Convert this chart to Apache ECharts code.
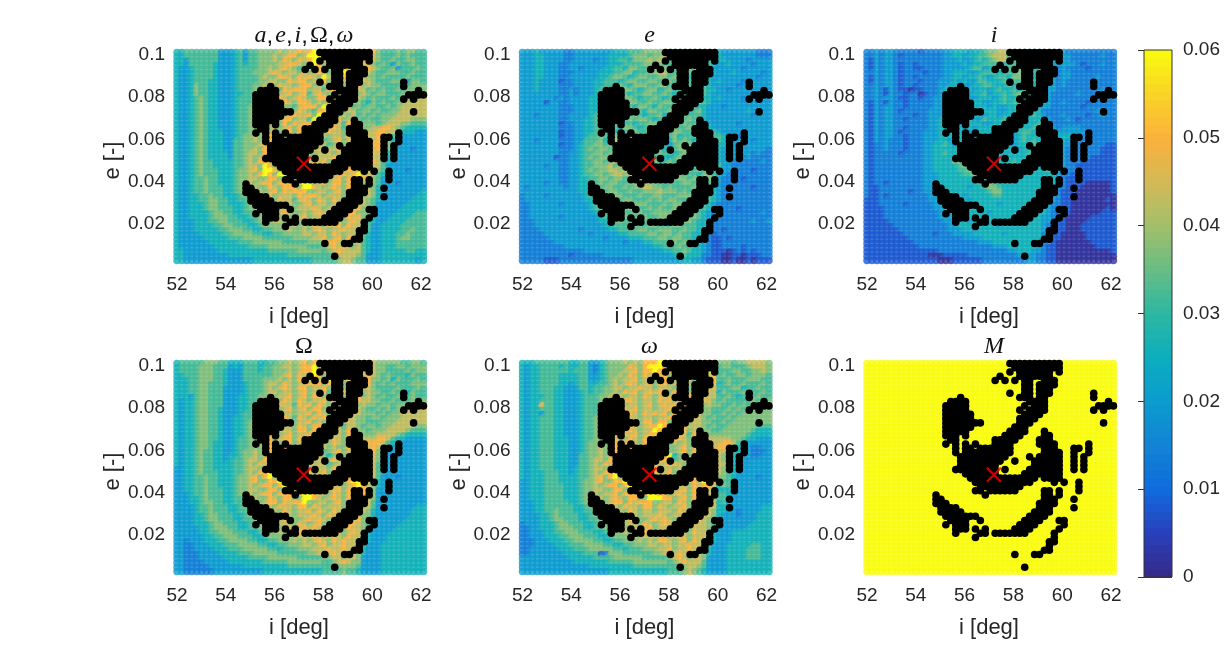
<!DOCTYPE html>
<html>
<head>
<meta charset="utf-8">
<style>html,body{margin:0;padding:0;background:#fff}#chart{width:1230px;height:657px}</style>
<script src="https://cdn.jsdelivr.net/npm/echarts@6/dist/echarts.min.js"></script>
</head>
<body>
<div id="chart"></div>
<script>
// Grid of initial conditions: 51 inclination columns by 50 eccentricity rows (top row first).
const iStart = 52, iStep = 0.202, eTop = 0.1012, eStep = 0.00201;
const xTicks = [52, 54, 56, 58, 60, 62];
const yTicks = [0.02, 0.04, 0.06, 0.08, 0.1];
const barTicks = [0, 0.01, 0.02, 0.03, 0.04, 0.05, 0.06];
const nominal = [57.2, 0.0485];
// Each digit indexes one of these sensitivity levels.
const levels = [0.002, 0.008, 0.014, 0.02, 0.026, 0.032, 0.037, 0.043, 0.05, 0.06];
const meanAnomalyValue = 0.06;

const fieldAll = [
"4455555553 3345355666 6767787898 8878778888 8655565665 5","4455555553 3345355666 7678867999 8788878888 7655565655 5",
"4435555553 3345355666 7687687897 8688788878 7655655665 5","4435555543 3345455666 6778876798 6878878887 6565365565 5",
"4334555543 3345555667 6787657688 7678889878 7655635556 5","4334555543 3345556667 8767768678 7678986787 6556665565 5",
"4334555543 3345555676 6887687876 9777878686 6565555655 5","4334555443 3345555667 7668788678 8699776877 6555665366 5",
"4334655443 3345556677 6877678867 6878687867 6655555566 6","4334655443 3345556676 7587888677 5889978775 6565565667 6",
"4334655443 3344556667 6778678578 7687986676 5665556677 6","4334565443 3345556576 7876787668 8678786765 6555656677 7",
"4334565443 3345556677 6687688767 6888677654 6565566777 7","4334565443 3345566767 7866578886 9677675656 6556567777 7",
"4334565443 3345566667 6777687658 8987577566 5655667777 7","4334565443 3345566776 7868877869 7876767565 6566677777 7",
"4334565443 3345566677 6688677598 6878677656 5566777766 6","4334565443 3345566767 6686878897 8687587766 6567776655 5",
"4334565443 3345566576 7678687989 6787576766 7788765444 4","4334565444 3345566767 8678687897 5877677677 7887754443 3",
"4334565444 3345667678 6886877587 7677688677 7887543333 3","4334565444 3355667688 6878687767 5678677687 7887443333 3",
"4334565444 3355666788 8677578687 7567686887 8876433333 3","4334565444 3355667687 6877688787 4778687678 7876433323 3",
"4334565444 4355677687 7686787667 7767687787 8764333333 3","4334565444 4355676788 6787687677 7786678678 7754333333 3",
"4334565544 4455676887 8687677787 8667678687 8754333333 3","4334565544 4455677698 6887687668 7787688978 7753333333 3",
"4334565554 4456678699 8668786877 6878587798 7653333233 3","4334565554 4456676898 6997687687 8687878987 7543333333 3",
"4334556554 4456677668 8699787768 7678688687 6533333333 3","4334556554 4456676788 6888689967 8688687867 6533323333 3",
"4334556555 4456677668 7688869987 6787687687 6433333333 3","4334556555 4456667767 8687888667 7678678687 6433333333 4",
"4334455655 4445667678 6777687887 6777678867 6433333334 4","4334455665 5445567677 6877578768 7687587676 5433333344 4",
"4334445665 5444566767 7687667867 7678678676 5333333444 4","4334445665 5544566676 6777677787 6787677866 4333334444 4",
"4334444566 5544556677 6787667678 7678688666 4333344445 5","4334444566 6554455667 7676778677 6878687866 4333444455 5",
"4333444556 6555445666 7767867768 7687678765 4334444555 5","4333444455 6655544566 6676767687 6878687765 3344445555 5",
"4333444445 5666554455 6667667678 7677877665 3344445565 5","4333344444 5566665544 5566667767 7687677864 3344455655 5",
"4333334444 4555666655 5555666677 8678687754 3344456655 5","4333333444 4445556666 6655555666 7887677754 3344455555 5",
"4333333344 4444455556 6666666555 6787876754 3344455555 5","4433333334 4444444445 5555566666 5678777754 3344444554 4",
"4433333333 3444444444 4445555555 5567777653 3344444444 4","4433333333 3333334444 4444444455 5556776553 3344444443 4"];

const fieldE = [
"3334333332 2333333334 4455566667 5444545565 4333333322 2","3334433332 2333333344 4456665667 6545454555 4333333322 2",
"3334433332 2333323344 5546667677 5555455545 4433332333 3","3334433322 3333333344 4555566765 5545544554 3343333233 3",
"3334433322 3323333445 5466555666 4554555453 3333323333 3","3334433322 2333334445 5664556677 5554655454 3334333332 3",
"3334433322 3333334456 6545665566 5665445443 3333333323 3","3334333312 2333344555 4566556655 6566555543 4333323333 3",
"3334333322 2333344555 6546665566 5556556543 3333233333 3","3334333322 3233345465 5665456645 6556655544 3323333334 3",
"3333333322 3233345554 6545566556 5465555543 3333333333 3","3333333232 3333445545 5665455654 5565655443 4333323333 3",
"3333313322 3333445655 4566556556 6554566543 3333333333 3","3333333322 2333445455 6554665465 5655554433 3233333333 3",
"3333333322 2333445565 5465546655 6655456433 3333334333 3","3332333322 3333455454 6556545564 7566555433 3333333233 3",
"3333333322 3334455565 5465665455 6755654433 3333333333 3","3333333312 2334455456 5554556655 5956555443 3333233333 3",
"3333333322 2334455565 4665455564 6655654543 3333333333 3","3333333312 2334456654 5546556545 5665545555 4333333333 3",
"3333333312 2334556566 5465465554 5645556565 5433223333 3","3332333322 2335556457 6554556455 4656545554 5433333233 3",
"3333333312 2345566565 5646555645 3565655655 4433333333 3","3333333322 2345656655 5455645554 4566555665 4333333333 2",
"3333333322 3345566565 6645554565 5456555545 4333333232 2","3333333122 3345656656 5556456544 4565654555 4333323222 2",
"3333333322 3345566567 7655545655 6556565545 4332222223 2","3333323322 3345566675 7765455565 6645555665 5332222222 2",
"3333333322 3345656677 6776556554 5656556574 4332222122 2","3333333322 3345566567 7677654565 6565554665 4322222222 2",
"3333333322 3344556656 6577766555 4666565565 3222212222 2","3333323322 3344556566 5566776655 5556656654 3222222222 2",
"3233333332 3344555665 5656677665 6555565564 3222222122 2","3333333333 3344456566 5565566676 6656554564 3222222222 2",
"2333323333 3334556556 6555655665 5566665554 3222222222 2","2333333333 3334455665 5665556565 6655456554 3222222222 2",
"2233333323 3333456556 6556665556 5665565543 2222222222 2","2233333333 3333455656 5665556565 5656654543 2222122222 2",
"2233333333 3333345565 6556655666 6555665432 2222222223 2","2233333323 3333334556 5665565566 6665565432 2222222222 2",
"2223333333 3333334455 6556656555 6556654432 2222222322 3","2223333333 3333333445 5566556655 5665554432 2222222222 2",
"2222333333 3323333344 5555665566 6556554322 2122222222 2","2222233333 3333233333 4455556656 6565544321 2222222222 2",
"2222223333 3333333233 3344455566 5665544321 1212222222 2","2222222333 3333333333 3233344555 5656554321 1222222222 2",
"2222222223 3333333333 3333333445 5565544321 1222212222 2","2222222222 2223333333 3333333334 4556544321 1101212122 2",
"2222222222 1222222333 3333333333 3445444221 1001101112 2","2222211122 2222222222 2223333333 3334433211 1001001011 1"];

const fieldI = [
"2232332222 2122223344 4344566776 5433333433 3222222222 2","2232332122 2222223344 3445567775 5444443443 3322222232 2",
"2132332222 2222223334 3345456775 5544444443 3322222222 2","2132332122 1222223333 4344555545 5544454433 3332122232 2",
"2132332122 1122223333 3455344555 6655445432 3222212222 2","2232332122 2212223344 4334555445 5664554332 3322222222 2",
"2132332122 1222223344 3445434554 6654444332 3322222322 2","2132332122 2122233343 4335544454 5544544332 3222221222 2",
"2232332122 1222233443 3344554445 4544445332 3222222222 2","2232132110 1122234334 4434434544 5454545332 2222222232 2",
"2232132212 2012233344 3344534454 5645454322 2223222222 2","2232332112 2122334433 4334443454 4554554322 2222222222 2",
"2132132212 2222334344 3444334454 5545454322 3222212222 2","2132332212 2222334434 3344434334 4545443322 2222122222 2",
"2132332122 2223334344 4433444334 4445442222 2222222322 2","2132332222 1223334334 3444344344 4554543222 3222212232 2",
"2132332212 2223344344 4433544454 5744443322 2321222222 2","2132332222 2223344433 4444334445 5844454322 2222222222 2",
"2132332212 2223344344 3434444354 4544544332 3333222222 2","2132332122 2233344434 4344444444 4455434343 3333322222 2",
"2132332212 2233344444 3344434444 3454443444 4432222222 2","2132322212 2233344344 4433444344 3454544343 4332222222 2",
"2122322212 2233445434 4444344443 3444544443 3322222221 1","2122322212 2233444444 3444444344 4344444443 3222222211 1",
"2122222122 2233445444 4344434444 4445443443 3222222211 1","2122222222 2233444454 4444444344 4444444443 3222221111 1",
"2122222222 2233444466 4344444444 5445454443 3222111111 1","2122222222 2233444445 6544344444 5544444553 3221111111 1",
"2122222222 2233444445 5654434444 4454544563 2221111111 1","2122222222 2233344444 5565444444 4544444443 2211111111 1",
"2122222222 2233344444 4456544444 4444444442 2111111111 1","2122122222 2233344444 4445665444 4444444442 2111100000 1",
"2112222222 2233344444 4344566544 4444444442 2111000000 1","2112222221 2233344444 4444456644 4444444442 1110000000 1",
"2112122222 2223344444 3444445544 4444444432 1110000000 0","1112222222 2223334444 4344444444 4444444432 1100000001 0",
"1112222212 2222334444 4434444344 4444444422 1100000000 0","1111222222 2222334444 3444444444 4444444322 1100000001 0",
"1111222222 2222233444 4444434444 4444444321 1100000011 1","1111222222 2222233344 4444444444 4444443321 1000001111 1",
"1111122222 2222223344 4344444444 4444443321 1000011111 1","1111112222 2222222334 4444444344 4444443221 1000111111 1",
"1111111222 2222222333 4434444444 4444443221 1000111111 1","1111111122 2222122233 3344444434 4444442211 0000011111 1",
"1111111112 2222222222 3333444444 4444442211 0000011111 1","1111111111 2222222222 2223334444 4444432210 0000001111 1",
"1111111111 1222222222 2222223334 4444432110 0000000111 1","1111111111 1111122222 2222222223 3444332110 0000000000 1",
"1111111111 1110001111 1222222222 2333322110 0000000000 0","1111111111 1111100011 1111222222 2223322110 0000000000 0"];

const fieldNode = [
"4555556665 5444555445 5667678687 8768878888 7666665566 5","4555566655 5343555455 6677678897 8687888788 7665566566 6",
"4555566655 4333555455 6667678899 8987687888 7665555656 6","4455566655 4333555555 6678687698 6798878678 7656555465 5",
"4445566655 4333555566 6767688677 8999687788 6656465556 5","4445566555 4333455567 7687677888 6899678888 6565655566 6",
"4445566555 3333455567 6787688677 8678687687 6555565556 5","4445566555 3333455567 7677678677 8599888667 6655655465 5",
"4443566555 3334455667 6778678688 6888687867 6565565565 5","4344566555 3334455677 7687687677 8689688877 6655655566 6",
"4344566555 3334455677 6877587868 7688988676 6566566677 7","4344566554 3334455677 7678678688 6878687765 5656566777 7",
"4344566554 3334556677 6877677868 7688687766 6565667777 7","4344566554 3344556677 7687587687 8987677665 6656667777 7",
"4344566554 3344566777 6778677867 6897877665 5566677777 7","4344566554 3344566677 8677687688 7687577656 6566777776 6",
"4344566554 3344566767 6877688687 9677687665 6667777655 5","4344566554 3344566677 7678677897 6787687766 6777765444 4",
"4344566554 3345566678 6788687898 5877687677 7887544333 3","4344566544 3345566768 8678678897 7687678778 8875433333 3",
"4344566544 3345566678 6887688697 7676688777 8754333333 3","4344565544 3345667688 8678687787 5678677788 8653333333 3",
"4344565544 3445667678 7687678878 6467687887 7643333333 3","4344565544 3455677688 6878687767 4787687778 7633333333 3",
"4344565544 4455676878 8677687877 7567677887 7543333333 3","3344565544 4455677688 6788688687 7686778688 7543333333 3",
"3344565554 4455676889 9687677877 8677688878 7543333333 3","3344556554 4456678689 6987687687 7688689878 7533323333 3",
"3344556554 4456678668 8998687677 6778689987 6433333333 3","3344556554 4456676788 6899687787 8687678987 6433333333 3",
"3344556555 4456677668 8689788778 6878688887 6333333333 3","3334556555 4456676788 6888689987 7687687887 6333333333 3",
"3334456555 4455677668 7688669987 6787687887 6333333333 3","3334456655 4455667678 8687889667 7678678877 5333333333 3",
"3333455655 5445667677 6877688687 6777678877 5333333334 4","3333455655 5445566767 7687677868 7687687776 4333333344 4",
"3333445665 5544566677 6777677787 6878678766 4333333344 4","3333445665 5544556677 7687667878 7687677866 4333333444 4",
"3333444566 5554455667 6777687678 6778688765 4333334444 4","3333344566 6554455666 7677678787 7678687765 3333344444 4",
"3333344556 6655544566 6767787678 7687678764 3333444444 4","3333334455 6665554456 6667677787 6877687754 3334444444 4",
"3323334445 5666655445 5666767678 7687877754 3334444444 4","3322333444 5556666554 4556667767 8677877753 3344444444 4",
"3322333344 4555666665 5455566677 7877877643 3344444444 4","3322233334 4445556666 6555555667 7787777643 3344444444 4",
"3322233333 4444455556 6666655555 6677677633 3344444444 4","3322223333 3444444455 5556666666 5567876633 3344444444 4",
"3322222333 3333444444 4445555555 5556666533 3344444444 4","3322222233 3333333344 4444444444 5555655433 3344444444 4"];

const fieldPeri = [
"4445555555 4455334566 6767688899 8878688878 6665667777 6","4344555545 4455324566 6687689998 8687887888 5665556777 6",
"4344555555 4555324566 6778688987 8878688898 5556655667 6","4344555544 4455334566 7687687888 6888958678 5655665666 5",
"4344555544 4455334567 6778678678 8688858888 5565556665 5","4344555544 3455445567 6787678688 6798687888 4565565556 5",
"4344555443 3355455667 7677877677 7689688687 5556645565 5","4344555443 3345455667 6878678787 6878688677 4655565556 5",
"4344455443 3345556677 7677687678 7687888677 5565455565 5","4344555443 3345556677 6887677687 8678688876 5655555656 6",
"4344855443 3345556677 7677678678 7888688676 6556565666 6","4344555443 3345556677 6878677677 8687887665 5565656666 6",
"4344355443 3345556777 7687687878 6897877665 5656566666 6","4344555443 3345566767 6777677677 8987677656 5565666666 6",
"4344555443 3345566677 7877688688 6877577665 5656666666 6","4344555443 3345566767 6778678898 7687777656 5566666655 5",
"4344555443 3345566677 8687677987 6788677665 5666666544 4","4344555443 3345566767 6878678897 8687587766 6666665444 4",
"4344555444 3345566677 7687688797 6887687777 7776654433 3","4344555444 3345667678 6877687887 5767677787 7887543333 3",
"4344555444 3345667668 8688677877 6678677787 8876433223 3","4344555444 3345667688 6877678767 6678687788 7765433222 3",
"4344555444 3355667678 8688687778 9468687778 7654333223 3","4344555444 3355677688 6878687788 9567678878 7654333333 3",
"4344555444 3355676878 8687688777 8876688778 7754333333 3","4344555444 3455677688 6878677877 7677878788 7654333333 3",
"4344455544 3455676889 9677678877 8678688978 7654333333 3","4344455544 4455678689 6987687688 7688687988 6654333323 3",
"3344455544 4456678668 8998678687 6777887988 6554333333 3","3344455554 4456676788 6899687878 7687687887 4654333333 3",
"3344455554 4456677668 8688788778 6778688877 4444333333 3","3344455554 4456676778 6888689988 6787688877 5543333333 3",
"3344455554 4456677678 7688669998 8678687876 5533333333 3","3334455555 4456667678 8687888667 7687687877 4533333333 3",
"3334455555 5445667677 6877688687 6778688877 4433333334 4","3334455655 5445566767 7687677677 7687678876 4433233334 4",
"3333445655 5544566677 6777677787 6778687776 4333233344 4","3333445665 5544556677 7687667878 7678678766 4333333344 4",
"2333444566 5554455667 6777687678 7687687765 4333333444 4","2233444566 6554455666 7677678677 6778677765 3333334444 4",
"2233344556 6655544566 6767787678 7677687764 3334444444 4","2233344455 6665554456 6667677777 6787677754 3334444444 4",
"2223334445 5666655445 5666767688 7678687754 3334444444 4","2223333444 5556666554 4556667767 7677877653 3344444554 4",
"2233333344 4555666665 5455566677 8677877643 3344445554 4","2233333334 4445551266 6555555667 7787677643 3344445554 4",
"3333333333 4444455556 6666655555 6787677633 3344445554 4","3333333333 3444444455 5556666666 5678777533 3344444444 4",
"3333333333 3333444444 4445555555 5566776533 3344444444 4","3333333333 3333333344 4444444444 5556765433 3344444444 4"];

// Cases flagged by the filter, overplotted in black on every panel.
const flagged = [
".......... .......... .........# ########## .......... .",
".......... .......... .......... ########## .......... .",
".......... .......... .........# .#######.# .......... .",
".......... .......... .......#.. .#######.. .......... .",
".......... .......... ......#.#. #.##..###. .......... .",
".......... .......... .......... ..##.####. .......... .",
".......... .......... .......... ..##.###.. .......... .",
".......... .......... .........# ..##.###.. ......#... .",
".......... .........# .......... .###.##... ......#... .",
".......... .......### #......... ...####... .........# .",
".......... ......#### #......... ..#.###... .......### #",
".......... ......#### #......... .#.####... ......#.#. .",
".......... ......#### ##........ ..####.... .......... .",
".......... ......#### ##........ .####..... .......... .",
".......... ......#### ####...... .###...... ........#. .",
".......... ......#### ##........ ###....... .......... .",
".......... ......#### #........# ###...#... .......... .",
".......... ......###. #.......## ##....##.. .......... .",
".......... .......##. ......#### #....###.. .......... .",
".......... ......#.#. #.#...#### .....####. .....#.... .",
".......... ........#. ##.####### ......###. ..##.#.... .",
".......... ........#. ########## ......#### ..#..#.... .",
".......... .........# #########. ...#.##### ..#.#..... .",
".......... .........# ########.. #...###### ..#.#..... .",
".......... .........# #######... ....###### ..#.#..... .",
".......... ........## #######.#. ...####### ..#.#..... .",
".......... .......... #######... ..######## .......... .",
".......... .......... .######### #####.#### .......... .",
".......... .......... ..######## ####....#. #..#...... .",
".......... .......... ...####### ##........ ...#...... .",
".......... .......... ..##.##### #.....##.# ...#...... .",
".......... ....#..... ....#..... ......##.# .......... .",
".......... ....##.... .......... ......###. ..#....... .",
".......... ....###... .......... .....####. .......... .",
".......... .....####. .......... .....###.. ..#....... .",
".......... .....##### .......... ....####.. .......... .",
".......... ......#### ###....... ...####... .......... .",
".......... .......### #..#...... ..####...# #......... .",
".......... ......#.## #......... .####..... #......... .",
".......... ........## #.#.#..... ####.....# .......... .",
".......... ........#. ...##.#### ###.....#. .......... .",
".......... .......... ..#....... ........#. .......... .",
".......... .......... .......... .......##. .......... .",
".......... .......... .......... .......#.. .......... .",
".......... .......... .......... ......##.. .......... .",
".......... .......... .......... #...##.... .......... .",
".......... .......... .......... .......... .......... .",
".......... .......... .......... .......... .......... .",
".......... .......... .......... ..#....... .......... .",
".......... .......... .......... .......... .......... ."];

const parula = ['#352a87','#2a3fbb','#0f6bdc','#1283d5','#0c9bcf','#0caebe','#2cb7a2','#66bd85',
                '#a2bf6a','#d2b957','#fbb13c','#f9d427','#f9fb0e'];

const panelOrigin = [[177, 55], [522.5, 55], [867, 55], [177, 366], [522.5, 366], [867, 366]];
const panelFields = [fieldAll, fieldE, fieldI, fieldNode, fieldPeri, null];
const panelTitles = [
  '{m|a},\u200a{m|e},\u200a{m|i},\u200a{u|Ω},\u200a{m|ω}', '{m|e}', '{m|i}', '{u|Ω}', '{m|ω}', '{m|M}'
];

const iAt = k => +(iStart + k * iStep).toFixed(3);
const eAt = r => +(eTop - r * eStep).toFixed(5);

function cells(field) {
  const out = [];
  for (let r = 0; r < 50; r++) {
    const row = field ? field[r].replace(/ /g, '') : null;
    for (let k = 0; k < 51; k++) {
      out.push([iAt(k), eAt(r), row ? levels[+row[k]] : meanAnomalyValue]);
    }
  }
  return out;
}

function flaggedPoints() {
  const out = [];
  flagged.forEach((line, r) => {
    line.replace(/ /g, '').split('').forEach((c, k) => {
      if (c === '#') out.push([iAt(k), eAt(r)]);
    });
  });
  return out;
}
const flaggedData = flaggedPoints();

const tickFont = { fontFamily: 'Liberation Sans', fontSize: 19, color: '#262626' };
const nameFont = { fontFamily: 'Liberation Sans', fontSize: 22, color: '#262626' };

const grids = [], xAxes = [], yAxes = [], series = [], titles = [], fieldSeries = [];

panelOrigin.forEach(([left, top], p) => {
  grids.push({ left, top, width: 244, height: 211.2 });
  xAxes.push({
    gridIndex: p, type: 'value', min: 52, max: 62, interval: 2,
    name: 'i [deg]', nameLocation: 'middle', nameGap: 40, nameTextStyle: nameFont,
    axisLine: { show: false }, axisTick: { show: false }, splitLine: { show: false },
    axisLabel: { ...tickFont, margin: 9, customValues: xTicks, formatter: v => String(v) }
  });
  yAxes.push({
    gridIndex: p, type: 'value', min: 0, max: 0.1, interval: 0.02,
    name: 'e [-]', nameLocation: 'middle', nameGap: 37, nameRotate: 90, nameTextStyle: nameFont,
    axisLine: { show: false }, axisTick: { show: false }, splitLine: { show: false },
    axisLabel: { ...tickFont, margin: 12, padding: [6, 0, 0, 0], customValues: yTicks, formatter: v => String(+v.toFixed(2)) }
  });
  fieldSeries.push(series.length);
  series.push({
    type: 'scatter', xAxisIndex: p, yAxisIndex: p, data: cells(panelFields[p]),
    symbol: 'circle', symbolSize: 7.5, clip: false, silent: true, large: false, progressive: 0, z: 2
  });
  series.push({
    type: 'scatter', xAxisIndex: p, yAxisIndex: p, data: flaggedData,
    symbol: 'circle', symbolSize: 7.6, clip: false, silent: true, z: 3,
    itemStyle: { color: '#000', opacity: 1 }
  });
  series.push({
    type: 'scatter', xAxisIndex: p, yAxisIndex: p, data: [nominal],
    symbol: 'path://M0 0L10 10M10 0L0 10', symbolSize: 14, clip: false, silent: true, z: 4,
    itemStyle: { color: 'none', borderColor: '#ff0000', borderWidth: 2.2 }
  });
  titles.push({
    text: panelTitles[p], left: left + 122, top: top - 36, textAlign: 'center',
    textStyle: {
      fontSize: 24, fontWeight: 'normal', color: '#111',
      rich: {
        m: { fontFamily: 'Liberation Serif', fontStyle: 'italic', fontSize: 24, color: '#111' },
        u: { fontFamily: 'Liberation Serif', fontSize: 24, color: '#111' }
      }
    }
  });
});

// Colour bar: one thin strip per colormap step, labelled through its own value axis.
const barIndex = panelOrigin.length;
const barStrips = [];
for (let n = 0; n < 64; n++) barStrips.push([0, n * 0.06 / 64, (n + 0.5) * 0.06 / 64]);
grids.push({ left: 1144, top: 50, width: 28, height: 527 });
xAxes.push({ gridIndex: barIndex, type: 'value', min: 0, max: 1, show: false });
yAxes.push({
  gridIndex: barIndex, type: 'value', min: 0, max: 0.06, interval: 0.01, position: 'right',
  axisLine: { show: false }, splitLine: { show: false },
  axisTick: { show: true, inside: true, length: 6, lineStyle: { color: '#333', width: 1 } },
  axisLabel: { ...tickFont, margin: 11, padding: [6, 0, 0, 0], customValues: barTicks, formatter: v => String(+v.toFixed(2)) }
});
fieldSeries.push(series.length);
series.push({
  type: 'custom', xAxisIndex: barIndex, yAxisIndex: barIndex, data: barStrips, silent: true, z: 2,
  encode: { x: 0, y: 1 },
  renderItem(params, api) {
    const a = api.coord([0, api.value(1)]);
    const b = api.coord([1, api.value(1) + 0.06 / 64]);
    return {
      type: 'rect',
      shape: { x: a[0], y: b[1], width: b[0] - a[0], height: a[1] - b[1] + 1 },
      style: { fill: api.visual('color') }
    };
  }
});
series.push({
  type: 'custom', xAxisIndex: barIndex, yAxisIndex: barIndex, data: [[0, 0]], silent: true, z: 3,
  encode: { x: 0, y: 1 },
  renderItem(params, api) {
    const a = api.coord([0, 0]);
    const b = api.coord([1, 0.06]);
    return {
      type: 'rect',
      shape: { x: a[0], y: b[1], width: b[0] - a[0], height: a[1] - b[1] },
      style: { fill: 'none', stroke: '#333', lineWidth: 1 }
    };
  }
});

const chart = echarts.init(document.getElementById('chart'), null, { renderer: 'canvas' });
chart.setOption({
  animation: false,
  backgroundColor: '#fff',
  title: titles,
  grid: grids,
  xAxis: xAxes,
  yAxis: yAxes,
  visualMap: {
    show: false, type: 'continuous', min: 0, max: 0.06, dimension: 2,
    seriesIndex: fieldSeries, inRange: { color: parula }
  },
  series
});
</script>
</body>
</html>
